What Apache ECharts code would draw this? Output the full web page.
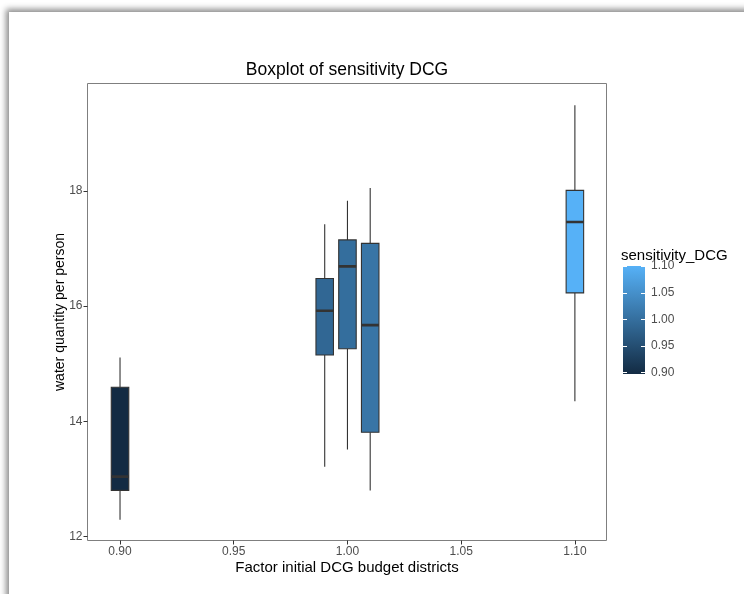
<!DOCTYPE html>
<html>
<head>
<meta charset="utf-8">
<script src="https://cdn.jsdelivr.net/npm/echarts@6/dist/echarts.min.js"></script>
<style>
  html, body { margin:0; padding:0; background:#fff; width:744px; height:594px; overflow:hidden; }
  #frame { position:absolute; left:9px; top:12px; width:800px; height:700px; background:#fff;
           box-shadow:-3px -3px 6px rgba(0,0,0,0.45); }
  #chart { position:absolute; left:0; top:0; width:744px; height:594px; }
</style>
</head>
<body>
<div id="frame"></div>
<div id="chart"></div>
<script>
// boxplot stats per factor level
const factors     = [0.90, 0.99, 1.00, 1.01, 1.10];
const sensitivity = [0.90, 0.99, 1.00, 1.01, 1.10];
const whiskerLow  = [12.29, 13.21, 13.51, 12.80, 14.35];
const q1          = [12.80, 15.15, 15.26, 13.81, 16.23];
const medians     = [13.04, 15.92, 16.69, 15.67, 17.46];
const q3          = [14.59, 16.48, 17.15, 17.09, 18.01];
const whiskerHigh = [15.11, 17.42, 17.83, 18.05, 19.49];

const xTicks = [0.90, 0.95, 1.00, 1.05, 1.10];
const yTicks = [12, 14, 16, 18];
const legendTicks = [0.90, 0.95, 1.00, 1.05, 1.10];

const LOW = '#132B43', HIGH = '#56B1F7';
const FONT = '"Liberation Sans", Arial, sans-serif';
const boxWidth = 0.0077;

const data = factors.map((f,i)=>[f, whiskerLow[i], q1[i], medians[i], q3[i], whiskerHigh[i], sensitivity[i]]);

function renderBox(params, api){
  const x = api.value(0);
  const lo = api.coord([x, api.value(1)]);
  const b1 = api.coord([x, api.value(2)]);
  const md = api.coord([x, api.value(3)]);
  const b3 = api.coord([x, api.value(4)]);
  const hi = api.coord([x, api.value(5)]);
  const hw = api.size([boxWidth, 0])[0] / 2;
  const fill = api.visual('color');
  const ln = {stroke:'#333', lineWidth:1.1};
  return {type:'group', children:[
    {type:'line', shape:{x1:lo[0],y1:lo[1],x2:b1[0],y2:b1[1]}, style:ln},
    {type:'line', shape:{x1:b3[0],y1:b3[1],x2:hi[0],y2:hi[1]}, style:ln},
    {type:'rect', shape:{x:md[0]-hw, y:b3[1], width:2*hw, height:b1[1]-b3[1]}, style:{fill:fill, stroke:'#333', lineWidth:1.1}},
    {type:'line', shape:{x1:md[0]-hw,y1:md[1],x2:md[0]+hw,y2:md[1]}, style:{stroke:'#333', lineWidth:2.6}}
  ]};
}

// colourbar for the legend, with white ticks on both edges
function renderBar(params, api){
  const p1 = api.coord([0, api.value(1)]);
  const p2 = api.coord([1, api.value(0)]);
  const kids = [{type:'rect', shape:{x:p1[0], y:p1[1], width:p2[0]-p1[0], height:p2[1]-p1[1]},
    style:{fill:new echarts.graphic.LinearGradient(0,0,0,1,[{offset:0,color:HIGH},{offset:1,color:LOW}])}}];
  legendTicks.forEach(t=>{
    const l = api.coord([0, t]), r = api.coord([1, t]);
    const y = Math.round(l[1]) + 0.5;
    kids.push({type:'line', shape:{x1:l[0], y1:y, x2:l[0]+4, y2:y}, style:{stroke:'#fff', lineWidth:1}});
    kids.push({type:'line', shape:{x1:r[0]-4, y1:y, x2:r[0], y2:y}, style:{stroke:'#fff', lineWidth:1}});
  });
  return {type:'group', children:kids};
}

const tickLbl = {color:'#4D4D4D', fontSize:12, fontFamily:FONT};

const chart = echarts.init(document.getElementById('chart'), null, {renderer:'canvas'});
chart.setOption({
  animation:false,
  grid:[
    {left:87.5, top:83.5, width:519, height:457, show:true, borderColor:'#7f7f7f', borderWidth:1, containLabel:false},
    {left:623, top:266, width:22, height:108, containLabel:false}
  ],
  xAxis:[
    {type:'value', gridIndex:0, min:0.8857, max:1.1139,
     axisLine:{show:false}, splitLine:{show:false},
     axisTick:{show:true, length:4, lineStyle:{color:'#333'}, customValues:xTicks},
     axisLabel:Object.assign({margin:5, customValues:xTicks, formatter:v=>v.toFixed(2)}, tickLbl)},
    {type:'value', gridIndex:1, min:0, max:1, show:false}
  ],
  yAxis:[
    {type:'value', gridIndex:0, min:11.93, max:19.866,
     axisLine:{show:false}, splitLine:{show:false},
     axisTick:{show:true, length:4, lineStyle:{color:'#333'}, customValues:yTicks},
     axisLabel:Object.assign({margin:5, customValues:yTicks}, tickLbl)},
    {type:'value', gridIndex:1, position:'right', min:0.897, max:1.10,
     axisLine:{show:false}, splitLine:{show:false}, axisTick:{show:false},
     axisLabel:Object.assign({margin:6, customValues:legendTicks, formatter:v=>v.toFixed(2)}, tickLbl)}
  ],
  visualMap:{type:'continuous', show:false, min:0.90, max:1.10, dimension:6, seriesIndex:0,
             inRange:{color:[LOW, HIGH]}},
  graphic:[
    {type:'text', x:347, y:70, style:{text:'Boxplot of sensitivity DCG', font:'17.5px '+FONT, fill:'#000', textAlign:'center', textVerticalAlign:'middle'}},
    {type:'text', x:347, y:568, style:{text:'Factor initial DCG budget districts', font:'15px '+FONT, fill:'#000', textAlign:'center', textVerticalAlign:'middle'}},
    {type:'text', x:60, y:312, rotation:Math.PI/2, style:{text:'water quantity per person', font:'14px '+FONT, fill:'#000', textAlign:'center', textVerticalAlign:'middle'}},
    {type:'text', x:621, y:256, z:20, style:{text:'sensitivity_DCG', font:'15px '+FONT, fill:'#000', textAlign:'left', textVerticalAlign:'middle'}}
  ],
  series:[
    {type:'custom', xAxisIndex:0, yAxisIndex:0, data:data, renderItem:renderBox,
     encode:{x:0, y:[1,2,3,4,5]}, clip:true},
    {type:'custom', xAxisIndex:1, yAxisIndex:1, data:[[0.897, 1.10]], renderItem:renderBar,
     encode:{y:[0,1]}, silent:true}
  ]
});
</script>
</body>
</html>
